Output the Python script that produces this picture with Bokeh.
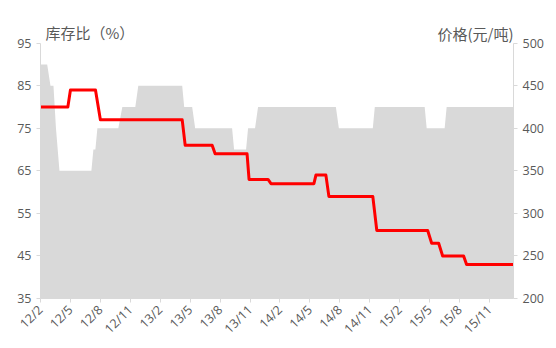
from math import pi
from bokeh.plotting import figure
from bokeh.models import Range1d, LinearAxis, FixedTicker
from bokeh.core.properties import value
from bokeh.embed import file_html
from bokeh.resources import INLINE

# Months since 2012-02 (x), inventory ratio (%) - grey area, left axis
stock_month = [0, 0.67, 1.0, 1.3, 1.55, 1.9, 5.1, 5.3, 5.5, 5.7, 7.8, 8.2, 9.5, 9.8,
               14.2, 14.4, 15.2, 15.5, 19.2, 19.4, 20.6, 20.8, 21.5, 21.8, 29.6, 29.9,
               33.3, 33.5, 38.5, 38.7, 40.5, 40.7, 47.4]
stock_ratio = [90, 90, 85, 85, 75, 65, 65, 70, 70, 75, 75, 80, 80, 85,
               85, 80, 80, 75, 75, 70, 70, 75, 75, 80, 80, 75,
               75, 80, 80, 75, 75, 80, 80]

# Price (yuan/ton) - red line, right axis
price_month = [0, 2.74, 3.0, 5.51, 6.0, 14.2, 14.5, 17.2, 17.5, 20.7, 20.9, 22.8, 23.1,
               27.4, 27.6, 28.6, 28.9, 33.3, 33.7, 38.8, 39.2, 39.9, 40.3, 42.4, 42.7, 47.4]
price = [425, 425, 445, 445, 410, 410, 380, 380, 370, 370, 340, 340, 335,
         335, 345, 345, 320, 320, 280, 280, 265, 265, 250, 250, 240, 240]

tick_labels = ["12/2", "12/5", "12/8", "12/11", "13/2", "13/5", "13/8", "13/11",
               "14/2", "14/5", "14/8", "14/11", "15/2", "15/5", "15/8", "15/11"]
tick_step = 3
left_ticks = [35, 45, 55, 65, 75, 85, 95]
right_ticks = [200, 250, 300, 350, 400, 450, 500]

left_title = "库存比（%）"
right_title = "价格(元/吨)"

TXT = "#595959"
AX = "#d9d9d9"

L_LO, L_HI = 35, 95
R_LO, R_HI = 200, 500
X_END = 47.4
# headroom above the axes (in left-axis units) where the axis titles sit
HEAD = 6.52
l_top = L_HI + HEAD
r_top = R_LO + (R_HI - R_LO) * (l_top - L_LO) / (L_HI - L_LO)

p = figure(width=556, height=348, output_backend="svg", toolbar_location=None,
           x_range=Range1d(0, X_END), y_range=Range1d(L_LO, l_top),
           min_border_left=40, min_border_right=43, min_border_top=15, min_border_bottom=50)
p.outline_line_color = None
p.xgrid.visible = False
p.ygrid.visible = False
p.background_fill_color = "white"
p.border_fill_color = "white"
p.extra_y_ranges = {"price": Range1d(R_LO, r_top)}

p.varea(x=stock_month, y1=L_LO, y2=stock_ratio, fill_color="#d9d9d9")
p.line(price_month, price, y_range_name="price", line_color="#ff0000",
       line_width=3, line_join="round")

ticks = [i * tick_step for i in range(len(tick_labels))]
xa = p.xaxis[0]
xa.ticker = FixedTicker(ticks=ticks)
xa.major_label_overrides = {t: l for t, l in zip(ticks, tick_labels)}
xa.major_label_orientation = pi / 4

ya = p.yaxis[0]
ya.ticker = FixedTicker(ticks=left_ticks)
ya.bounds = (L_LO, L_HI)

ra = LinearAxis(y_range_name="price", ticker=FixedTicker(ticks=right_ticks), bounds=(R_LO, R_HI))
p.add_layout(ra, "right")

for ax in [xa, ya, ra]:
    ax.axis_line_color = AX
    ax.major_tick_line_color = AX
    ax.major_tick_in = 0
    ax.major_tick_out = 4
    ax.minor_tick_line_color = None
    ax.major_label_text_color = TXT
    ax.major_label_text_font = "Open Sans"
    ax.major_label_text_font_size = "12.5px"
    ax.major_label_standoff = 5

p.text(x=[0.5], y=[L_HI + 2.6], text=[left_title], text_font=value("Noto Sans CJK SC"),
       text_font_size="15px", text_color=TXT, text_baseline="middle", text_align="left")
p.text(x=[X_END], y=[L_HI + 2.4], text=[right_title], text_font=value("Noto Sans CJK SC"),
       text_font_size="15px", text_color=TXT, text_baseline="middle", text_align="right")

open("out.html", "w").write(file_html(p, INLINE))
